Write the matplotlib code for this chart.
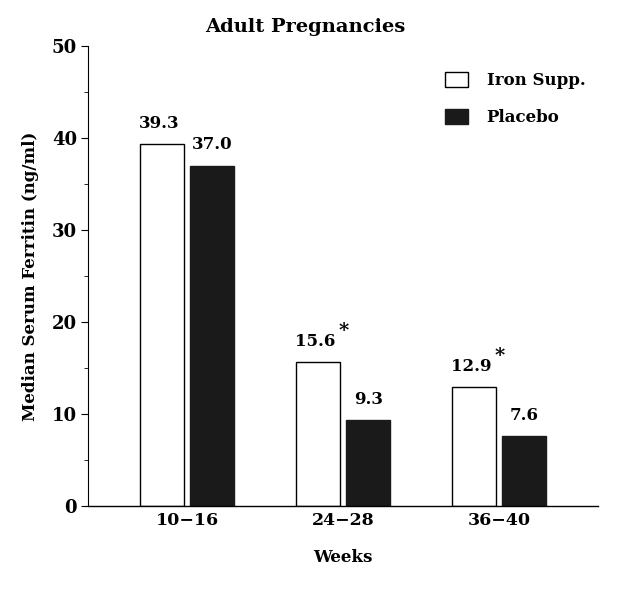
import numpy as np
import matplotlib
matplotlib.use("Agg")
import matplotlib.pyplot as plt
from matplotlib.ticker import MultipleLocator

weeks = ["10\u221216", "24\u221228", "36\u221240"]
iron = [39.3, 15.6, 12.9]
placebo = [37.0, 9.3, 7.6]
iron_sig = [False, True, True]

plt.rcParams['font.family'] = ['DejaVu Serif']
plt.rcParams['font.weight'] = 'bold'

fig = plt.figure(figsize=(6.26, 5.96), dpi=100)
ax = fig.add_axes([88/626, 1-506/596, 510/626, 460/596])

x = np.arange(len(weeks))
w = 0.28
off = 0.162
b1 = ax.bar(x-off, iron, w, color="white", edgecolor="black", linewidth=1.0, label="Iron Supp.")
b2 = ax.bar(x+off, placebo, w, color="#1a1a1a", edgecolor="#1a1a1a", linewidth=1.0, label="Placebo")

for i in range(len(weeks)):
    ax.annotate("%.1f" % iron[i], (x[i]-off, iron[i]), xytext=(-1.5, 9), textcoords="offset points",
                ha="center", va="bottom", fontsize=12)
    if iron_sig[i]:
        ax.annotate("*", (x[i]-off, iron[i]), xytext=(18.5, 16), textcoords="offset points",
                    ha="center", va="bottom", fontsize=14)
    ax.annotate("%.1f" % placebo[i], (x[i]+off, placebo[i]), xytext=(0, 9), textcoords="offset points",
                ha="center", va="bottom", fontsize=12)

ax.set_xlim(-0.635, 2.635)
ax.set_ylim(0, 50)
ax.yaxis.set_major_locator(MultipleLocator(10))
ax.yaxis.set_minor_locator(MultipleLocator(5))
ax.set_xticks(x)
ax.set_xticklabels(weeks, fontsize=12.5)
ax.tick_params(axis="x", length=0, pad=4)
ax.tick_params(axis="y", which="major", length=5, labelsize=13, pad=3)
ax.tick_params(axis="y", which="minor", length=3)
for s in ["top", "right"]:
    ax.spines[s].set_visible(False)
ax.spines["left"].set_linewidth(0.8)
ax.spines["bottom"].set_linewidth(1.0)

ax.set_ylabel("Median Serum Ferritin (ng/ml)", fontsize=12, fontweight="bold", labelpad=9)
fig.text(343/626, 1-558/596, "Weeks", ha="center", va="center", fontsize=12)
fig.text(305/626, 1-27/596, "Adult Pregnancies", ha="center", va="center", fontsize=14)

ax.legend(loc="upper left", bbox_to_anchor=(430/626, 1-57/596), bbox_transform=fig.transFigure,
          frameon=False, fontsize=12, handlelength=1.4, handleheight=1.0, handletextpad=1.1,
          labelspacing=1.2)

fig.savefig("out.png", dpi=100)
